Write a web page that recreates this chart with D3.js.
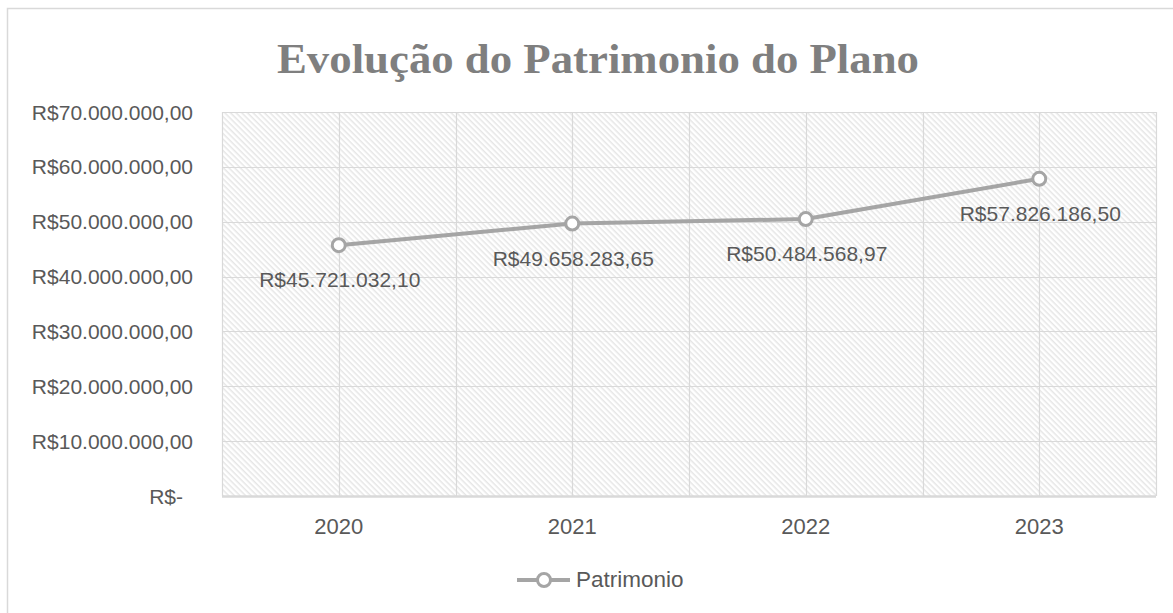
<!DOCTYPE html>
<html>
<head>
<meta charset="utf-8">
<script src="https://cdn.jsdelivr.net/npm/d3@7"></script>
<style>
  body { margin: 0; background: #fff; }
  svg { display: block; }
</style>
</head>
<body>
<script>
const years = ['2020', '2021', '2022', '2023'];
const patrimonio = [45721032.10, 49658283.65, 50484568.97, 57826186.50];
const yTicks = [0, 10000000, 20000000, 30000000, 40000000, 50000000, 60000000, 70000000];
const chartTitle = 'Evolução do Patrimonio do Plano';
const seriesName = 'Patrimonio';

const width = 1173;
const height = 613;
const plot = { left: 222, right: 1156, top: 112, bottom: 496 };
const lineColor = '#a5a5a5';
const textColor = '#595959';
const gridColor = '#d9d9d9';

const br = d3.formatLocale({ decimal: ',', thousands: '.', grouping: [3], currency: ['R$', ''] });
const money = br.format('$,.2f');
const fmt = v => v === 0 ? 'R$-' : money(v);

const svg = d3.select('body')
  .append('svg')
  .attr('width', width)
  .attr('height', height)

// hatch pattern for plot area
const defs = svg.append('defs');
defs.append('pattern')
  .attr('id', 'hatch')
  .attr('patternUnits', 'userSpaceOnUse')
  .attr('width', 4)
  .attr('height', 4)
  .attr('patternTransform', 'rotate(45)')
  .call(p => {
    p.append('rect').attr('width', 4).attr('height', 4).attr('fill', '#ffffff');
    p.append('rect').attr('width', 4).attr('height', 1.5).attr('fill', '#e6e6e6');
  })

// chart border
svg.append('path')
  .attr('d', `M7.5,${height} V8.5 H${width}`)
  .style('fill', 'none')
  .style('stroke', gridColor)
  .style('stroke-width', 1.5)

// title
svg.append('text')
  .attr('x', 598)
  .attr('y', 73)
  .attr('text-anchor', 'middle')
  .attr('textLength', 642)
  .attr('lengthAdjust', 'spacingAndGlyphs')
  .style('font-family', '"Liberation Serif", "DejaVu Serif", serif')
  .style('font-weight', 700)
  .style('font-size', '43px')
  .style('fill', '#7f7f7f')
  .text(chartTitle)

const x = d3.scaleBand()
  .domain(years)
  .range([plot.left, plot.right])
const cx = d => x(d) + x.bandwidth() / 2;

const y = d3.scaleLinear()
  .domain([0, 70000000])
  .range([plot.bottom, plot.top])

// plot background
svg.append('rect')
  .attr('x', plot.left)
  .attr('y', plot.top)
  .attr('width', plot.right - plot.left)
  .attr('height', plot.bottom - plot.top)
  .style('fill', 'url(#hatch)')

// gridlines
const grid = svg.append('g').style('stroke', gridColor).style('stroke-width', 1.2);
grid.selectAll('line.h')
  .data(yTicks)
  .enter()
  .append('line')
  .attr('x1', plot.left)
  .attr('x2', plot.right)
  .attr('y1', d => Math.round(y(d)) + 0.5)
  .attr('y2', d => Math.round(y(d)) + 0.5)

const vLines = [plot.left, ...years.map(d => cx(d)), ...years.map(d => x(d) + x.bandwidth())];
grid.selectAll('line.v')
  .data(vLines)
  .enter()
  .append('line')
  .attr('x1', d => Math.round(d) + 0.5)
  .attr('x2', d => Math.round(d) + 0.5)
  .attr('y1', plot.top)
  .attr('y2', plot.bottom)

// bottom axis line
svg.append('line')
  .attr('x1', plot.left)
  .attr('x2', plot.right)
  .attr('y1', plot.bottom + 0.5)
  .attr('y2', plot.bottom + 0.5)
  .style('stroke', gridColor)
  .style('stroke-width', 2.5)

// y axis labels
const yAxis = svg.append('g')
  .attr('transform', `translate(${plot.left}, 0)`)
  .call(d3.axisLeft(y).tickValues(yTicks).tickFormat(fmt).tickSize(0).tickPadding(29))
yAxis.select('.domain').remove();
yAxis.selectAll('text')
  .attr('dy', 7)
  .attr('dx', d => d === 0 ? -10 : 0)
  .style('font-family', '"Liberation Sans", Arial, sans-serif')
  .style('font-size', '21px')
  .style('fill', textColor)

// x axis labels
const xAxis = svg.append('g')
  .attr('transform', `translate(0, ${plot.bottom})`)
  .call(d3.axisBottom(x).tickSize(0).tickPadding(0))
xAxis.select('.domain').remove();
xAxis.selectAll('text')
  .attr('y', 38)
  .attr('dy', 0)
  .style('font-family', '"Liberation Sans", Arial, sans-serif')
  .style('font-size', '22px')
  .style('fill', textColor)

// line
const line = d3.line()
  .x((d, i) => cx(years[i]))
  .y(d => y(d))

svg.append('path')
  .datum(patrimonio)
  .attr('d', line)
  .style('fill', 'none')
  .style('stroke', lineColor)
  .style('stroke-width', 4)
  .style('stroke-linejoin', 'round')

svg.append('g')
  .selectAll('circle')
  .data(patrimonio)
  .enter()
  .append('circle')
  .attr('cx', (d, i) => cx(years[i]))
  .attr('cy', d => y(d))
  .attr('r', 6.5)
  .style('fill', '#fff')
  .style('stroke', lineColor)
  .style('stroke-width', 3)

// data labels
svg.append('g')
  .selectAll('text')
  .data(patrimonio)
  .enter()
  .append('text')
  .attr('x', (d, i) => cx(years[i]) + 1)
  .attr('y', d => y(d) + 42)
  .attr('text-anchor', 'middle')
  .style('font-family', '"Liberation Sans", Arial, sans-serif')
  .style('font-size', '21px')
  .style('fill', textColor)
  .text(d => money(d))

// legend
const legend = svg.append('g').attr('transform', 'translate(517, 580)');
legend.append('line')
  .attr('x1', 0)
  .attr('x2', 53)
  .style('stroke', lineColor)
  .style('stroke-width', 4)
legend.append('circle')
  .attr('cx', 27)
  .attr('r', 6.5)
  .style('fill', '#fff')
  .style('stroke', lineColor)
  .style('stroke-width', 3)
legend.append('text')
  .attr('x', 59)
  .attr('y', 7)
  .style('font-family', '"Liberation Sans", Arial, sans-serif')
  .style('font-size', '22.5px')
  .style('fill', textColor)
  .text(seriesName)
</script>
</body>
</html>
